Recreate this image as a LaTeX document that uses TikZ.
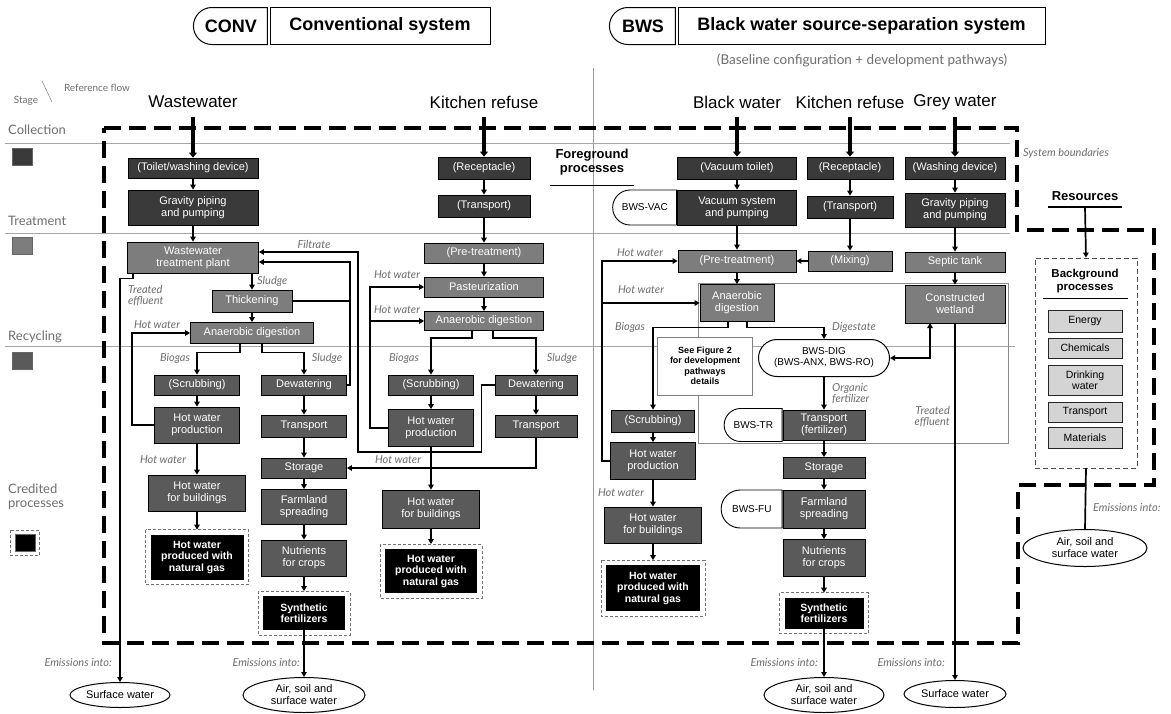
\documentclass[tikz,border=0pt]{standalone}
\usepackage{fontspec}
\setmainfont{Liberation Sans}
\newfontfamily\latofont{Lato}
\usetikzlibrary{arrows.meta,shapes.misc,shapes.geometric}
\definecolor{colC}{HTML}{3A3A3A}
\definecolor{colT}{HTML}{7D7D7D}
\definecolor{colR}{HTML}{5A5A5A}
\definecolor{bgfill}{HTML}{D4D4D4}
\definecolor{labgray}{HTML}{6E6E6E}
\begin{document}
\begin{tikzpicture}[x=1pt,y=-1pt,
  sz/.style 2 args={minimum width=#1pt, minimum height=#2pt},
  pbox/.style={draw=black, line width=0.8pt, text=white, align=center, inner sep=1pt, font=\fontsize{11}{12}\selectfont},
  cbox/.style={pbox, fill=colC},
  tbox/.style={pbox, fill=colT},
  rbox/.style={pbox, fill=colR},
  kbox/.style={pbox, fill=black, font=\bfseries\fontsize{10.5}{11.5}\selectfont},
  bgitem/.style={draw=black!85, line width=0.9pt, fill=bgfill, align=center, inner sep=1pt, font=\fontsize{10.5}{11}\selectfont},
  credline/.style={draw=black!55, dash pattern=on 3pt off 2pt, line width=0.7pt},
  flow/.style={line width=1.7pt, -{Triangle[length=5pt,width=5.5pt]}},
  flowboth/.style={line width=1.7pt, {Triangle[length=5pt,width=5.5pt]}-{Triangle[length=5pt,width=5.5pt]}},
  link/.style={line width=1.7pt},
  entry/.style={line width=4.5pt, -{Triangle[length=5pt,width=8pt]}},
  lab/.style={font=\latofont\itshape\fontsize{11}{11}\selectfont, text=labgray, align=left, inner sep=0pt},
  tag/.style={rounded rectangle, rounded rectangle right arc=none, draw=black, line width=0.9pt, fill=white, inner sep=1pt, font=\fontsize{10}{11}\selectfont},
  ell/.style={ellipse, draw=black, line width=1pt, fill=white, align=center, inner sep=0pt, font=\fontsize{11}{12}\selectfont},
  colhead/.style={font=\fontsize{17}{19}\selectfont},
  stagelab/.style={font=\latofont\fontsize{13}{14}\selectfont, text=labgray, align=left, anchor=west, inner sep=0pt},
  swatch/.style={draw=black!60, line width=0.6pt, minimum width=20pt, minimum height=17pt, inner sep=0pt},
  hdrtag/.style={rounded rectangle, rounded rectangle right arc=none, draw=black, line width=1pt, font=\bfseries\fontsize{18}{20}\selectfont, inner sep=2pt},
  hdrtitle/.style={draw=black, line width=1pt, font=\bfseries\fontsize{18}{20}\selectfont, inner sep=2pt},
]
\useasboundingbox (0,0) rectangle (1171,713);
\fill[white] (0,0) rectangle (1171,713);

% ---------- background guide lines ----------
\draw[black!35, line width=0.7pt] (5,143) -- (1010,143);
\draw[black!35, line width=0.7pt] (5,233) -- (1010,233);
\draw[black!35, line width=0.7pt] (5,346) -- (1015,346);
\draw[black!40, line width=0.8pt] (593,68) -- (593,690);
\draw[black!45, line width=0.9pt] (698,283) rectangle (1008,443);

% ---------- system boundary ----------
\draw[line width=3.4pt, dash pattern=on 17pt off 8pt] (104,128) -- (1017,128) -- (1017,230) -- (1154,230) -- (1154,485) -- (1018,485) -- (1018,643) -- (104,643) -- cycle;

% ---------- headers ----------
\node[hdrtag, sz={78}{37}] (convtag) at (231,26) {CONV};
\node[hdrtitle, sz={220}{37}] (convtitle) at (380,26) {Conventional system};
\node[hdrtag, sz={70}{37}] (bwstag) at (643,26) {BWS};
\node[hdrtitle, sz={367}{37}] (bwstitle) at (861.5,26) {Black water source-separation system};
\node[font=\latofont\fontsize{13.5}{14}\selectfont, text=labgray] (baseline) at (862,60) {(Baseline configuration + development pathways)};

\node[font=\latofont\fontsize{10}{10}\selectfont, text=labgray] (lstage) at (26,101) {Stage};
\node[font=\latofont\fontsize{10}{10}\selectfont, text=labgray] (lref) at (97,88) {Reference flow};
\draw[labgray] (42,81) -- (52,102);

\node[colhead] (hww) at (193,102) {Wastewater};
\node[colhead] (hkr1) at (484,102) {Kitchen refuse};
\node[colhead] (hbw) at (737,102) {Black water};
\node[colhead] (hkr2) at (850,102) {Kitchen refuse};
\node[colhead] (hgw) at (955,102) {Grey water};

\node[font=\bfseries\fontsize{13}{14.5}\selectfont, align=center] (fg) at (592,162) {Foreground\\processes};
\draw[line width=1pt] (550,185) -- (634,185);
\node[lab] (sysb) at (1066,153) {System boundaries};

% ---------- stage legend ----------
\node[stagelab] (lcol) at (8,130) {Collection};
\node[stagelab] (ltre) at (8,221) {Treatment};
\node[stagelab] (lrec) at (8,337) {Recycling};
\node[stagelab] (lcre) at (8,497) {Credited\\processes};
\node[swatch, fill=colC] (swc) at (22,157) {};
\node[swatch, fill=colT] (swt) at (22,246) {};
\node[swatch, fill=colR] (swr) at (22,361) {};
\node[swatch, fill=black] (swk) at (25,543) {};
\draw[credline] ([shift={(-4pt,4pt)}]swk.north west) rectangle ([shift={(4pt,-4pt)}]swk.south east);

% ---------- CONV wastewater ----------
\node[cbox, sz={130}{20}] (tw) at (193,168) {(Toilet/washing device)};
\node[cbox, sz={130}{35}] (gp1) at (193,207.5) {Gravity piping\\and pumping};
\node[tbox, sz={131}{31}] (wwtp) at (193,257.5) {Wastewater\\treatment plant};
\node[tbox, sz={80}{22}] (thick) at (252,301) {Thickening};
\node[tbox, sz={123}{21}] (ad1) at (252,333) {Anaerobic digestion};
\node[rbox, sz={85}{20}] (scr1) at (197,385) {(Scrubbing)};
\node[rbox, sz={85}{36}] (hwp1) at (197,425) {Hot water\\production};
\node[rbox, sz={97}{36}] (hwb1) at (197,493) {Hot water\\for buildings};
\node[kbox, sz={92}{44}] (ng1) at (197,557) {Hot water\\produced with\\natural gas};
\node[rbox, sz={85}{20}] (dew1) at (304,385) {Dewatering};
\node[rbox, sz={85}{22}] (tr1) at (304,426) {Transport};
\node[rbox, sz={85}{20}] (sto1) at (304,468) {Storage};
\node[rbox, sz={85}{35}] (farm1) at (304,507) {Farmland\\spreading};
\node[rbox, sz={85}{36}] (nut1) at (304,558) {Nutrients\\for crops};
\node[kbox, sz={81}{33}] (syn1) at (304,613) {Synthetic\\fertilizers};

% ---------- CONV kitchen refuse ----------
\node[cbox, sz={92}{22}] (rec1) at (484,168) {(Receptacle)};
\node[cbox, sz={92}{22}] (trk1) at (484,206) {(Transport)};
\node[tbox, sz={119}{20}] (pre1) at (484,253) {(Pre-treatment)};
\node[tbox, sz={119}{20}] (past) at (484,287) {Pasteurization};
\node[tbox, sz={119}{19}] (ad2) at (484,321) {Anaerobic digestion};
\node[rbox, sz={85}{20}] (scr2) at (431,385) {(Scrubbing)};
\node[rbox, sz={85}{37}] (hwp2) at (431,428) {Hot water\\production};
\node[rbox, sz={82}{20}] (dew2) at (536,385) {Dewatering};
\node[rbox, sz={82}{22}] (tr2) at (536,426) {Transport};
\node[rbox, sz={97}{38}] (hwb2) at (431,509) {Hot water\\for buildings};
\node[kbox, sz={91}{43}] (ng2) at (431,571) {Hot water\\produced with\\natural gas};

% ---------- BWS black water ----------
\node[cbox, sz={119}{22}] (vt) at (737,168) {(Vacuum toilet)};
\node[cbox, sz={119}{35}] (vs) at (737,207.5) {Vacuum system\\and pumping};
\node[tag, sz={66}{35}, anchor=east] (vac) at (vs.west) {BWS-VAC};
\node[tbox, sz={118}{22}] (pre3) at (737,261) {(Pre-treatment)};
\node[tbox, sz={74}{37}] (ad3) at (737,303) {Anaerobic\\digestion};
\node[draw=black!50, line width=0.9pt, fill=white, align=center, inner sep=1pt, font=\bfseries\fontsize{9}{10.5}\selectfont, sz={95}{58}] (seefig) at (705,366) {See Figure 2\\for development\\pathways\\details};
\node[rounded rectangle, draw=black, line width=1pt, fill=white, align=center, inner sep=1pt, font=\fontsize{10}{11}\selectfont, sz={133}{37}] (dig) at (824,358) {BWS-DIG\\(BWS-ANX, BWS-RO)};
\node[rbox, sz={83}{22}] (scr3) at (653,421) {(Scrubbing)};
\node[rbox, sz={85}{37}] (hwp3) at (653,461) {Hot water\\production};
\node[rbox, sz={97}{36}] (hwb3) at (653,525) {Hot water\\for buildings};
\node[kbox, sz={93}{45}] (ng3) at (653,588) {Hot water\\produced with\\natural gas};
\node[rbox, sz={82}{30}] (trf) at (824,425) {Transport\\(fertilizer)};
\node[tag, sz={60}{33}, anchor=east] (tagtr) at (trf.west) {BWS-TR};
\node[rbox, sz={82}{21}] (sto3) at (824,468) {Storage};
\node[rbox, sz={82}{38}] (farm3) at (824,509) {Farmland\\spreading};
\node[tag, sz={63}{38}, anchor=east] (tagfu) at (farm3.west) {BWS-FU};
\node[rbox, sz={82}{37}] (nut3) at (824,558) {Nutrients\\for crops};
\node[kbox, sz={78}{30}] (syn3) at (824,613) {Synthetic\\fertilizers};

% ---------- BWS kitchen refuse ----------
\node[cbox, sz={86}{22}] (rec3) at (850,168) {(Receptacle)};
\node[cbox, sz={86}{22}] (trk3) at (850,207) {(Transport)};
\node[tbox, sz={84}{20}] (mix) at (850,261) {(Mixing)};

% ---------- BWS grey water ----------
\node[cbox, sz={100}{22}] (wd) at (955,168) {(Washing device)};
\node[cbox, sz={100}{34}] (gp3) at (955,210) {Gravity piping\\and pumping};
\node[tbox, sz={100}{20}] (st) at (955,262) {Septic tank};
\node[tbox, sz={100}{38}] (cw) at (955,304) {Constructed\\wetland};

% ---------- resources / background ----------
\node[font=\bfseries\fontsize{13}{14}\selectfont] (res) at (1085,196) {Resources};
\draw[line width=1.5pt] (1048,207) -- (1122,207);
\coordinate (resu) at (1085,207);
\node[draw=black!70, dash pattern=on 5pt off 3pt, line width=0.8pt, sz={102}{210}] (bg) at (1086,363) {};
\node[font=\bfseries\fontsize{11.5}{13}\selectfont, align=center] (bgt) at (1085,281) {Background\\processes};
\draw[line width=1pt] (1043,298) -- (1128,298);
\node[bgitem, sz={74}{22}] (en) at (1085,321) {Energy};
\node[bgitem, sz={74}{20}] (chem) at (1085,348) {Chemicals};
\node[bgitem, sz={74}{30}] (dw) at (1085,380) {Drinking\\water};
\node[bgitem, sz={74}{20}] (trb) at (1085,412) {Transport};
\node[bgitem, sz={74}{21}] (mat) at (1085,437.5) {Materials};

% ---------- receiving environments ----------
\node[ell, sz={100}{25}] (sw1) at (120,695) {Surface water};
\node[ell, sz={122}{35}] (air1) at (304,695) {Air, soil and\\surface water};
\node[ell, sz={120}{35}] (air3) at (824,695) {Air, soil and\\surface water};
\node[ell, sz={102}{27}] (sw3) at (955,694) {Surface water};
\node[ell, sz={124}{37}] (air4) at (1085,548) {Air, soil and\\surface water};

% ---------- credited outlines ----------
\foreach \n in {ng1,ng2,ng3,syn1,syn3}{
  \draw[credline] ([shift={(-5pt,5pt)}]\n.north west) rectangle ([shift={(5pt,-5pt)}]\n.south east);
}

% ---------- entry arrows ----------
\coordinate (eww) at (193,117);
\coordinate (ekr1) at (484,117);
\coordinate (ebw) at (737,117);
\coordinate (ekr2) at (850,117);
\coordinate (egw) at (955,117);
\draw[entry] (eww) -- (tw.north);
\draw[entry] (ekr1) -- (rec1.north);
\draw[entry] (ebw) -- (vt.north);
\draw[entry] (ekr2) -- (rec3.north);
\draw[entry] (egw) -- (wd.north);

% ---------- CONV wastewater connectors ----------
\draw[flow] (tw) -- (gp1);
\draw[flow] (gp1) -- (wwtp);
\draw[flow] (thick.north |- wwtp.south) -- (thick.north);
\draw[flow] (thick) -- (ad1);
\draw[flow] ([xshift=-12pt]ad1.south) -- ++(0,8.5) -| (scr1.north);
\draw[flow] ([xshift=10pt]ad1.south) -- ++(0,8.5) -| (dew1.north);
\draw[flow] (scr1) -- (hwp1);
\draw[flow] (hwp1) -- (hwb1);
\draw[flow] (hwb1) -- ([yshift=5pt]ng1.north);
\draw[flow] (hwp1.west) -- ++(-22,0) |- (ad1.west);
\draw[flow] (dew1) -- (tr1);
\draw[flow] (tr1) -- (sto1);
\draw[flow] (sto1) -- (farm1);
\draw[flow] (farm1) -- (nut1);
\draw[flow] (nut1) -- ([yshift=5pt]syn1.north);
\draw[flow] (syn1) -- (air1);
\draw[flow] ([xshift=6pt]wwtp.south west) -- ++(0,5) -| (sw1.north);
\coordinate (fa) at (350,262);
\coordinate (fb) at (358,252);
\draw[flow] (dew1.east) -| (fa) -- (fa -| wwtp.east);
\draw[link] (thick.east) -- (thick.east -| fa);
\draw[flow] (dew2.west) -- ++(-13,0) -- ++(0,67) -| (fb) -- (fb -| wwtp.east);

% ---------- CONV kitchen connectors ----------
\draw[flow] (rec1) -- (trk1);
\draw[flow] (trk1) -- (pre1);
\draw[flow] (pre1) -- (past);
\draw[flow] (past) -- (ad2);
\draw[flow] ([xshift=-12pt]ad2.south) -- ++(0,7) -| (scr2.north);
\draw[flow] ([xshift=9pt]ad2.south) -- ++(0,7) -| (dew2.north);
\draw[flow] (scr2) -- (hwp2);
\draw[flow] (hwp2) -- (hwb2);
\draw[flow] (hwb2) -- ([yshift=5pt]ng2.north);
\draw[flow] (hwp2.west) -- ++(-18,0) |- (past.west);
\coordinate (hk) at (370.5,321);
\draw[flow] (hk) -- (ad2.west);
\draw[flow] (dew2) -- (tr2);
\draw[flow] (tr2.south) |- (sto1.east);

% ---------- BWS connectors ----------
\draw[flow] (vt) -- (vs);
\draw[flow] (vs) -- (pre3);
\draw[flow] (pre3) -- (ad3);
\draw[flow] (hwp3.west) -- ++(-8,0) |- (pre3.west);
\coordinate (hb) at (602.5,303);
\draw[flow] (hb) -- (ad3.west);
\draw[flow] ([xshift=-9pt]ad3.south) -- ++(0,5.5) -| (scr3.north);
\draw[flow] ([xshift=10pt]ad3.south) -- ++(0,5.5) -| (dig.north);
\coordinate (cwd) at (930,323);
\draw[flowboth] (cwd) |- (dig.east);
\draw[flow] (dig) -- (trf);
\draw[flow] (scr3) -- (hwp3);
\draw[flow] (hwp3) -- (hwb3);
\draw[flow] (hwb3) -- ([yshift=5pt]ng3.north);
\draw[flow] (trf) -- (sto3);
\draw[flow] (sto3) -- (farm3);
\draw[flow] (farm3) -- (nut3);
\draw[flow] (nut3) -- ([yshift=5pt]syn3.north);
\draw[flow] (syn3) -- (air3);
\draw[flow] (rec3) -- (trk3);
\draw[flow] (trk3) -- (mix);
\draw[flow] (mix) -- (pre3);
\draw[flow] (wd) -- (gp3);
\draw[flow] (gp3) -- (st);
\draw[flow] (st) -- (cw);
\draw[flow] (cw) -- (sw3);
\draw[flow] (resu) -- (bg.north);
\draw[link] (bg.south) -- (air4.north);

% ---------- flow labels ----------
\node[lab] (l1) at (314,244) {Filtrate};
\node[lab, anchor=west] (l2) at (257,281) {Sludge};
\node[lab, anchor=north west] (l3) at (128,285) {Treated\\effluent};
\node[lab] (l4) at (157,325) {Hot water};
\node[lab] (l5) at (175,358) {Biogas};
\node[lab] (l6) at (327,358) {Sludge};
\node[lab] (l7) at (163,460) {Hot water};
\node[lab] (l8) at (397,275) {Hot water};
\node[lab] (l9) at (397,310) {Hot water};
\node[lab] (l10) at (404,358) {Biogas};
\node[lab] (l11) at (562,358) {Sludge};
\node[lab] (l12) at (398,460) {Hot water};
\node[lab] (l13) at (640,253) {Hot water};
\node[lab] (l14) at (641,290) {Hot water};
\node[lab] (l15) at (630,327) {Biogas};
\node[lab] (l16) at (854,327) {Digestate};
\node[lab, anchor=north west] (l17) at (832,383) {Organic\\fertilizer};
\node[lab, anchor=north east, align=right] (l18) at (950,406) {Treated\\effluent};
\node[lab] (l19) at (621,493) {Hot water};
\node[lab, anchor=east] (e1) at (112,663) {Emissions into:};
\node[lab, anchor=east] (e2) at (300,663) {Emissions into:};
\node[lab, anchor=east] (e3) at (818,663) {Emissions into:};
\node[lab, anchor=east] (e4) at (945,663) {Emissions into:};
\node[lab, anchor=west] (e5) at (1093,508) {Emissions into:};
\end{tikzpicture}
\end{document}
